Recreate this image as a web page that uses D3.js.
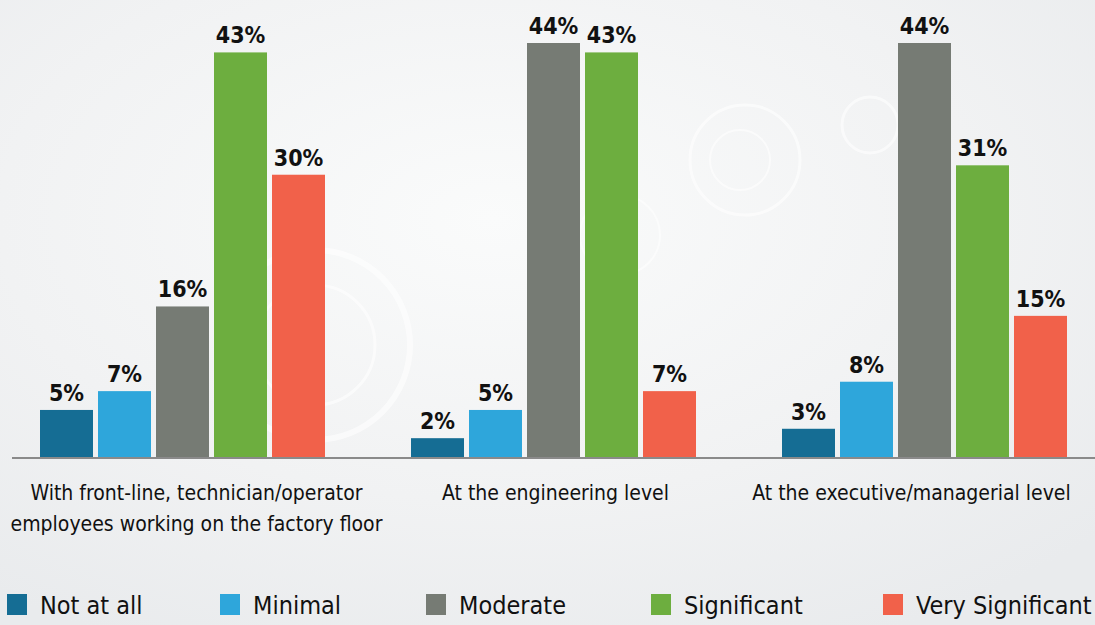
<!DOCTYPE html>
<html>
<head>
<meta charset="utf-8">
<script src="https://cdnjs.cloudflare.com/ajax/libs/d3/7.8.5/d3.min.js"></script>
<style>
  html, body { margin: 0; padding: 0; overflow: hidden; }
  body { background: #f3f4f5; }
  text { font-family: "DejaVu Sans Condensed", "DejaVu Sans", sans-serif; font-stretch: condensed; }
</style>
</head>
<body>
<script>
(function() {

    var width = 1095,
        height = 625;

    // data
    var categories = [
        ["With front-line, technician/operator", "employees working on the factory floor"],
        ["At the engineering level"],
        ["At the executive/managerial level"]
    ];
    var seriesNames = ["Not at all", "Minimal", "Moderate", "Significant", "Very Significant"];
    var seriesColors = ["#156d94", "#2ea6db", "#767b74", "#6dae3f", "#f1614a"];
    var notAtAll = [5, 2, 3];
    var minimal = [7, 5, 8];
    var moderate = [16, 44, 44];
    var significant = [43, 43, 31];
    var verySignificant = [30, 7, 15];
    var values = [notAtAll, minimal, moderate, significant, verySignificant];

    var svg = d3.select("body")
        .append("svg")
        .attr("width", width)
        .attr("height", height);

    var defs = svg.append("defs");

    // soft background, lighter behind the bars
    var bg = defs.append("radialGradient")
        .attr("id", "bg")
        .attr("cx", "0.45").attr("cy", "0.35").attr("r", "0.75");
    bg.append("stop").attr("offset", "0").attr("stop-color", "#fafbfb");
    bg.append("stop").attr("offset", "0.6").attr("stop-color", "#f1f2f3");
    bg.append("stop").attr("offset", "1").attr("stop-color", "#e9ebed");

    svg.append("rect")
        .attr("width", width)
        .attr("height", height)
        .attr("fill", "url(#bg)");

    // faint decorative rings like the photo behind the original
    var deco = svg.append("g").attr("fill", "none").attr("stroke", "#ffffff").attr("opacity", 0.6);
    [[315, 345, 95, 6], [315, 345, 60, 3], [745, 160, 55, 3], [740, 160, 30, 2], [870, 125, 28, 3], [620, 235, 40, 2]]
        .forEach(function(c) {
            deco.append("circle").attr("cx", c[0]).attr("cy", c[1]).attr("r", c[2]).attr("stroke-width", c[3]);
        });

    var baseY = 457;

    var y = d3.scaleLinear()
        .domain([0, 44])
        .range([baseY, 43]);

    var x0 = d3.scaleBand()
        .domain(d3.range(categories.length))
        .range([-3, 1110]);

    var x1 = d3.scaleBand()
        .domain(d3.range(seriesNames.length))
        .range([0, 285])
        .paddingInner(5 / 58);

    // category labels are not quite centred under their bars in the original
    var labelShift = [14, 2, -13];

    var groups = svg.append("g")
        .selectAll(".group")
        .data(categories)
        .enter().append("g")
        .attr("class", "group")
        .attr("transform", function(d, i) {
            return "translate(" + (x0(i) + x0.bandwidth() / 2 - 142.5) + ",0)";
        });

    groups.each(function(cat, ci) {
        var g = d3.select(this);
        var rows = values.map(function(s, si) { return { s: si, v: s[ci] }; });

        g.selectAll("rect")
            .data(rows)
            .enter().append("rect")
            .attr("x", function(d) { return x1(d.s); })
            .attr("y", function(d) { return y(d.v); })
            .attr("width", x1.bandwidth())
            .attr("height", function(d) { return baseY - y(d.v); })
            .attr("fill", function(d) { return seriesColors[d.s]; });

        g.selectAll(".val")
            .data(rows)
            .enter().append("text")
            .attr("class", "val")
            .attr("x", function(d) { return x1(d.s) + x1.bandwidth() / 2; })
            .attr("y", function(d) { return y(d.v) - 9; })
            .attr("text-anchor", "middle")
            .attr("font-size", 23)
            .attr("font-weight", "bold")
            .attr("fill", "#111")
            .text(function(d) { return d.v + "%"; });

        var cx = 142.5 + labelShift[ci];
        var lab = g.append("text")
            .attr("x", cx)
            .attr("y", 500)
            .attr("text-anchor", "middle")
            .attr("font-size", 21)
            .attr("fill", "#111");
        lab.selectAll("tspan")
            .data(cat)
            .enter().append("tspan")
            .attr("x", cx)
            .attr("dy", function(d, i) { return i === 0 ? 0 : 31; })
            .text(function(d) { return d; });
    });

    // baseline
    svg.append("line")
        .attr("x1", 12).attr("x2", width)
        .attr("y1", baseY + 1).attr("y2", baseY + 1)
        .attr("stroke", "#8a8a8a")
        .attr("stroke-width", 2);

    // legend
    var legendX = [7, 220, 426, 651, 883];
    var legend = svg.append("g")
        .selectAll(".leg")
        .data(seriesNames)
        .enter().append("g")
        .attr("class", "leg")
        .attr("transform", function(d, i) { return "translate(" + legendX[i] + ",594)"; });

    legend.append("rect")
        .attr("width", 20)
        .attr("height", 21)
        .attr("fill", function(d, i) { return seriesColors[i]; });

    legend.append("text")
        .attr("x", 33)
        .attr("y", 20)
        .attr("font-size", 25)
        .attr("fill", "#111")
        .text(function(d) { return d; });

})();
</script>
</body>
</html>
